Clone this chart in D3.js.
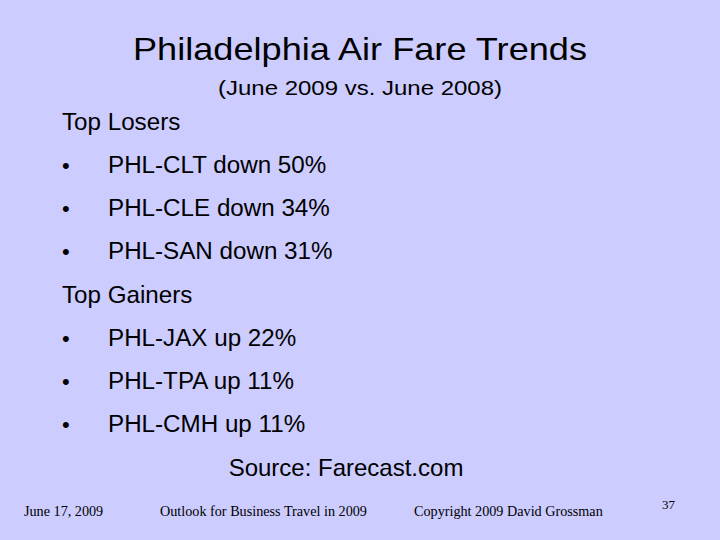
<!DOCTYPE html>
<html><head><meta charset="utf-8">
<script src="https://cdn.jsdelivr.net/npm/d3@7"></script>
<style>body{margin:0}svg{display:block}</style></head>
<body><script>
const title = "Philadelphia Air Fare Trends";
const subtitle = "(June 2009 vs. June 2008)";
const losersHeading = "Top Losers";
const losers = ["PHL-CLT down 50%", "PHL-CLE down 34%", "PHL-SAN down 31%"];
const gainersHeading = "Top Gainers";
const gainers = ["PHL-JAX up 22%", "PHL-TPA up 11%", "PHL-CMH up 11%"];
const source = "Source: Farecast.com";
const footer = ["June 17, 2009", "Outlook for Business Travel in 2009", "Copyright 2009 David Grossman"];
const pageNum = "37";

const svg = d3.select("body").append("svg").attr("width",720).attr("height",540);
svg.append("rect").attr("width",720).attr("height",540).attr("fill","#ccccff");
const sans = "Liberation Sans, Arial, sans-serif", serif = "Liberation Serif, Times New Roman, serif";
const t = (x,y,s,size,font,anchor,len) => {
  const e = svg.append("text").attr("x",x).attr("y",y).text(s)
  .attr("font-size",size).attr("font-family",font||sans).attr("text-anchor",anchor||"start").attr("fill","#000");
  if(len) e.attr("textLength",len).attr("lengthAdjust","spacingAndGlyphs");
  return e;
};

t(360,60,title,32,sans,"middle",454);
t(360,95,subtitle,21,sans,"middle",284);

const rows = [losersHeading, ...losers, gainersHeading, ...gainers];
const y = d3.scalePoint().domain(d3.range(rows.length)).range([130,432]);
rows.forEach((r,i)=>{
  const isHead = (r===losersHeading||r===gainersHeading);
  if(isHead) t(62,y(i),r,22,sans,"start",null).attr("font-size",24.2);
  else { t(62,y(i),"•",22); t(108,y(i),r,24.2); }
});
t(346,476,source,24,sans,"middle");

const fx = [24,160,414];
footer.forEach((f,i)=>t(fx[i],516,f,14.2,serif));
t(662,509,pageNum,13,serif);
</script></body></html>
